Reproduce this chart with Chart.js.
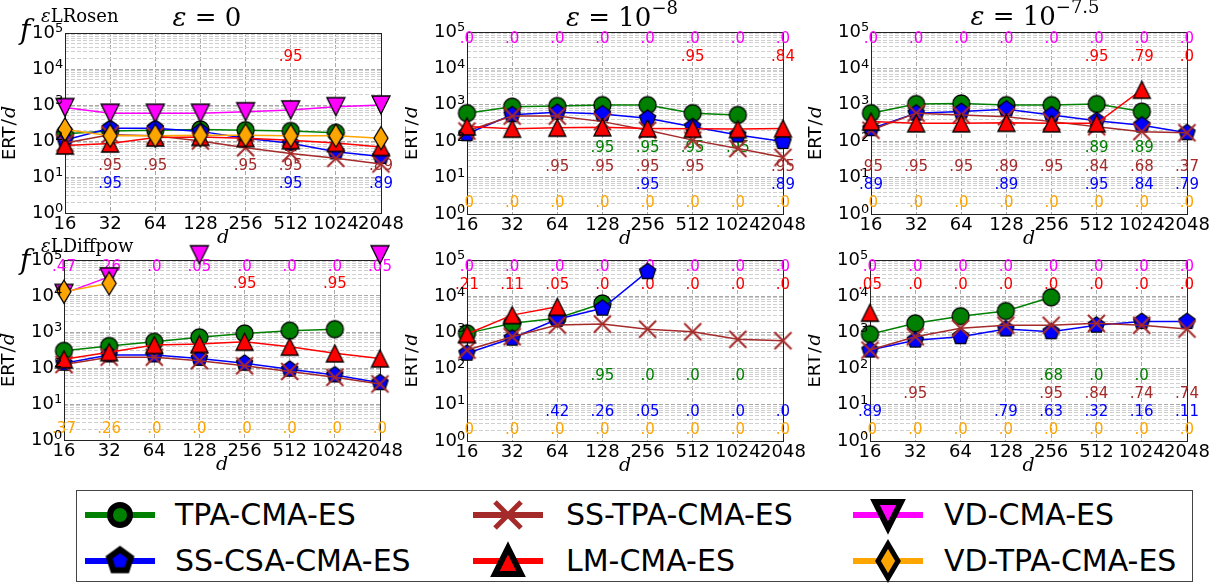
<!DOCTYPE html>
<html>
<head>
<meta charset="utf-8">
<script src="https://cdn.jsdelivr.net/npm/chart.js@4.4.1/dist/chart.umd.min.js"></script>
<style>
  body { margin: 0; background: #fff; }
  #page { position: relative; width: 1222px; height: 585px; overflow: hidden; background: #fff; }
  #page canvas { position: absolute; }
  .txt { position: absolute; white-space: nowrap; color: #000; font-family: "DejaVu Serif"; }
  .sup { font-size: 18px; position: relative; top: -12px; }
  .leg-text { position: absolute; font-family: "DejaVu Sans"; font-size: 30px; line-height: 44px; color: #000; white-space: nowrap; }
</style>
</head>
<body>
<div id="page"></div>
<script>
const N = null;
const DIMS = [16, 32, 64, 128, 256, 512, 1024, 2048];
const ALGOS = ['TPA-CMA-ES', 'SS-CSA-CMA-ES', 'SS-TPA-CMA-ES', 'LM-CMA-ES', 'VD-CMA-ES', 'VD-TPA-CMA-ES'];
const COLORS = ['#008000', '#0000ff', '#a52a2a', '#ff0000', '#ff00ff', '#ffa500'];
const Y_DECADES = [1, 10, 100, 1000, 10000, 100000];
const Y_TICK_BASE = '10';
const Y_TICK_EXP = ['0', '1', '2', '3', '4', '5'];

// ERT/d, one row per algorithm (ALGOS order), one column per dimension
const ertRosenEps0 = [
  [160, 190, 200, 210, 200, 190, 170, N],
  [107, 225, 225, 185, 120, 86, 50, 37],
  [88, 150, 140, 100, 65, 45, 33, 23],
  [75, 85, 125, 130, 120, 105, 88, 68],
  [850, 590, 590, 590, 650, 730, 900, 1000],
  [210, 140, 140, 145, 145, 140, 140, 120]
];
const ertRosenEps8 = [
  [590, 890, 930, 980, 980, 590, 525, N],
  [160, 530, 620, 560, 425, 250, 148, 98],
  [190, 490, 490, 345, 200, 107, 63, 36],
  [255, 220, 235, 240, 225, 220, 215, 225],
  [N, N, N, N, N, N, N, N],
  [N, N, N, N, N, N, N, N]
];
const ertRosenEps75 = [
  [590, 1050, 1090, 980, 980, 1050, 650, N],
  [220, 590, 650, 760, 525, 365, 276, 170],
  [200, 590, 525, 470, 345, 250, 183, 170],
  [345, 310, 310, 320, 310, 310, 2600, N],
  [N, N, N, N, N, N, N, N],
  [N, N, N, N, N, N, N, N]
];
const ertDiffpowEps0 = [
  [300, 410, 535, 710, 910, 1090, 1200, N],
  [135, 230, 230, 185, 135, 92, 64, 39],
  [125, 200, 200, 160, 115, 80, 55, 36],
  [175, 275, 435, 465, 535, 390, 255, 185],
  [11800, 34000, N, 140000, N, N, N, 140000],
  [13200, 22500, N, N, N, N, N, N]
];
const ertDiffpowEps8 = [
  [940, 1780, 2450, 6300, N, N, N, N],
  [265, 690, 2300, 4650, 47500, N, N, N],
  [325, 760, 1600, 1700, 1230, 1040, 645, 590],
  [900, 3000, 5100, N, N, N, N, N],
  [N, N, N, N, N, N, N, N],
  [N, N, N, N, N, N, N, N]
];
const ertDiffpowEps75 = [
  [890, 1780, 2800, 3900, 9300, N, N, N],
  [325, 610, 760, 1240, 1040, 1580, 1990, 1990],
  [325, 760, 1300, 1580, 1580, 1780, 1580, 1240],
  [3500, N, N, N, N, N, N, N],
  [N, N, N, N, N, N, N, N],
  [N, N, N, N, N, N, N, N]
];

// success rates written in each panel
const ALL0 = ['.0', '.0', '.0', '.0', '.0', '.0', '.0', '.0'];
const NONE = [N, N, N, N, N, N, N, N];
const rateRosenEps0 = [
  NONE,
  [N, '.95', N, N, N, '.95', N, '.89'],
  [N, '.95', '.95', N, '.95', '.95', N, '.89'],
  [N, N, N, N, N, '.95', N, N],
  NONE,
  NONE
];
const rateRosenEps8 = [
  [N, N, N, '.95', '.95', '.95', '.95', N],
  [N, N, N, N, '.95', N, N, '.89'],
  [N, N, '.95', '.95', '.95', '.95', N, '.95'],
  [N, N, N, N, N, '.95', N, '.84'],
  ALL0,
  ALL0
];
const rateRosenEps75 = [
  [N, N, N, N, N, '.89', '.89', N],
  ['.89', N, N, '.89', N, '.95', '.84', '.79'],
  ['.95', '.95', '.95', '.89', '.95', '.84', '.68', '.37'],
  [N, N, N, N, N, '.95', '.79', '.0'],
  ALL0,
  ALL0
];
const rateDiffpowEps0 = [
  NONE,
  NONE,
  NONE,
  [N, N, N, N, '.95', N, '.95', N],
  ['.47', '.26', '.0', '.05', '.0', '.0', '.0', '.05'],
  ['.37', '.26', '.0', '.0', '.0', '.0', '.0', '.0']
];
const rateDiffpowEps8 = [
  [N, N, N, '.95', '.0', '.0', '.0', N],
  [N, N, '.42', '.26', '.05', '.0', '.0', '.0'],
  NONE,
  ['.21', '.11', '.05', '.0', '.0', '.0', '.0', '.0'],
  ALL0,
  ALL0
];
const rateDiffpowEps75 = [
  [N, N, N, N, '.68', '.0', '.0', N],
  ['.89', N, N, '.79', '.63', '.32', '.16', '.11'],
  [N, '.95', N, N, '.95', '.84', '.74', '.74'],
  ['.05', '.0', '.0', '.0', '.0', '.0', '.0', '.0'],
  ALL0,
  ALL0
];

// height (log10 of y) at which each algorithm's rates are printed
const RATE_ROW = [1.8, 0.8, 1.3, 4.32, 4.8, 0.3];

const page = document.getElementById('page');

// marker images -------------------------------------------------------
const SHAPES = ['circle', 'pentagon', 'cross', 'triangle', 'triangleDown', 'diamond'];

function markerCanvas(kind, color, s, lw) {
  const w = kind === 'diamond' ? Math.round(s * 0.6) : s;
  const pad = Math.ceil(lw) + 1;
  const c = document.createElement('canvas');
  c.width = w + pad * 2;
  c.height = s + pad * 2;
  const g = c.getContext('2d');
  g.translate(c.width / 2, c.height / 2);
  g.lineWidth = lw;
  g.strokeStyle = '#000';
  g.fillStyle = color;
  g.lineJoin = 'miter';
  const r = s / 2;
  g.beginPath();
  if (kind === 'circle') {
    g.arc(0, 0, r, 0, Math.PI * 2);
  } else if (kind === 'triangle') {
    g.moveTo(0, -r); g.lineTo(r, r); g.lineTo(-r, r); g.closePath();
  } else if (kind === 'triangleDown') {
    g.moveTo(0, r); g.lineTo(r, -r); g.lineTo(-r, -r); g.closePath();
  } else if (kind === 'pentagon') {
    for (let k = 0; k < 5; k++) {
      const a = -Math.PI / 2 + k * 2 * Math.PI / 5;
      const px = r * Math.cos(a), py = r * Math.sin(a);
      if (k === 0) g.moveTo(px, py); else g.lineTo(px, py);
    }
    g.closePath();
  } else if (kind === 'diamond') {
    g.moveTo(0, -r); g.lineTo(w / 2, 0); g.lineTo(0, r); g.lineTo(-w / 2, 0); g.closePath();
  }
  if (kind === 'cross') {
    g.strokeStyle = color;
    g.moveTo(-r, -r); g.lineTo(r, r);
    g.moveTo(r, -r); g.lineTo(-r, r);
    g.stroke();
  } else {
    g.fill();
    g.stroke();
  }
  return c;
}

const MARK_SIZE = { circle: 17, pentagon: 17, cross: 17, triangle: 17, triangleDown: 18, diamond: 23 };
const MARKERS = SHAPES.map((k, i) => markerCanvas(k, COLORS[i], MARK_SIZE[k], k === 'cross' ? 2 : 1.3));

// panel drawing -------------------------------------------------------
function overlay(rates) {
  return {
    id: 'overlay',
    beforeDatasetsDraw(chart) {
      const { ctx, chartArea: a, scales } = chart;
      ctx.save();
      ctx.strokeStyle = '#222';
      ctx.lineWidth = 1;
      ctx.strokeRect(Math.round(a.left) + 0.5, Math.round(a.top) + 0.5,
        Math.round(a.right - a.left), Math.round(a.bottom - a.top));
      ctx.font = '15px "DejaVu Sans"';
      ctx.textAlign = 'center';
      ctx.textBaseline = 'middle';
      rates.forEach((row, s) => {
        ctx.fillStyle = COLORS[s];
        const y = scales.y.getPixelForValue(Math.pow(10, RATE_ROW[s]));
        row.forEach((txt, j) => {
          if (txt) ctx.fillText(txt, scales.x.getPixelForValue(DIMS[j]), y);
        });
      });
      ctx.restore();
    },
    afterDraw(chart) {
      const { ctx, chartArea: a, scales } = chart;
      ctx.save();
      ctx.fillStyle = '#000';
      // exponents of the y tick labels
      ctx.font = '13px "DejaVu Sans"';
      ctx.textAlign = 'left';
      ctx.textBaseline = 'middle';
      Y_DECADES.forEach((d, k) => {
        ctx.fillText(Y_TICK_EXP[k], a.left - 10, scales.y.getPixelForValue(d) - 4);
      });
      // axis titles
      ctx.textBaseline = 'alphabetic';
      ctx.textAlign = 'center';
      ctx.font = 'italic 19px "DejaVu Serif"';
      ctx.fillText('d', (a.left + a.right) / 2, a.bottom + 30);
      ctx.translate(a.left - 50, (a.top + a.bottom) / 2 + 10);
      ctx.rotate(-Math.PI / 2);
      ctx.textAlign = 'left';
      ctx.font = '18px "DejaVu Sans"';
      const w1 = ctx.measureText('ERT').width;
      ctx.font = '19px "DejaVu Serif"';
      const w2 = ctx.measureText('/').width + 2;
      ctx.font = 'italic 19px "DejaVu Serif"';
      const w3 = ctx.measureText('d').width;
      const x0 = -(w1 + w2 + w3) / 2;
      ctx.font = '18px "DejaVu Sans"';
      ctx.fillText('ERT', x0, 0);
      ctx.font = '19px "DejaVu Serif"';
      ctx.fillText('/', x0 + w1 + 1, 0);
      ctx.font = 'italic 19px "DejaVu Serif"';
      ctx.fillText('d', x0 + w1 + w2, 0);
      ctx.restore();
    }
  };
}

function makePanel(p, ert, rates) {
  const canvas = document.createElement('canvas');
  canvas.width = p.cw;
  canvas.height = p.ch;
  canvas.style.left = p.cx + 'px';
  canvas.style.top = p.cy + 'px';
  page.appendChild(canvas);

  new Chart(canvas, {
    type: 'line',
    data: {
      datasets: ALGOS.map((name, i) => ({
        label: name,
        data: DIMS.map((d, j) => ({ x: d, y: ert[i][j] })),
        borderColor: COLORS[i],
        borderWidth: 1.5,
        pointStyle: MARKERS[i],
        pointRadius: 6,
        pointHoverRadius: 6,
        spanGaps: false,
        tension: 0,
        clip: false,
        order: ALGOS.length - i
      }))
    },
    options: {
      responsive: false,
      animation: false,
      events: [],
      layout: { padding: { left: 0, bottom: 0, top: p.T - p.cy, right: p.cx + p.cw - p.R } },
      plugins: { legend: { display: false }, tooltip: { enabled: false } },
      scales: {
        x: {
          type: 'logarithmic',
          min: 16,
          max: 2048,
          afterBuildTicks: (s) => { s.ticks = DIMS.map(v => ({ value: v })); },
          afterFit: (s) => { s.height = p.cy + p.ch - p.B; },
          ticks: {
            autoSkip: false, maxRotation: 0, minRotation: 0, padding: 1, color: '#000',
            font: { family: 'DejaVu Sans', size: 18 },
            callback: (v) => String(v)
          },
          grid: { color: '#a8a8a8', lineWidth: 1, drawTicks: false },
          border: { display: false, dash: [4, 2] }
        },
        y: {
          type: 'logarithmic',
          min: 1,
          max: 100000,
          afterBuildTicks: (s) => {
            const t = [];
            Y_DECADES.forEach((d, k) => {
              if (k === Y_DECADES.length - 1) { t.push({ value: d }); return; }
              for (let m = 1; m < 10; m++) t.push({ value: m * d });
            });
            s.ticks = t;
          },
          afterFit: (s) => { s.width = p.L - p.cx; },
          ticks: {
            autoSkip: false, padding: 10, color: '#000',
            font: { family: 'DejaVu Sans', size: 18 },
            callback: (v) => (Y_DECADES.indexOf(v) >= 0 ? Y_TICK_BASE : '')
          },
          grid: {
            color: (c) => (Y_DECADES.indexOf(c.tick.value) >= 0 ? '#a8a8a8' : '#cfcfcf'),
            lineWidth: 1,
            drawTicks: false
          },
          border: { display: false, dash: [4, 2] }
        }
      }
    },
    plugins: [overlay(rates)]
  });
}

const PANELS = [
  { cx: 0, cy: 0, cw: 405, ch: 252, L: 65, R: 381, T: 33, B: 213 },
  { cx: 405, cy: 0, cw: 405, ch: 252, L: 467, R: 783, T: 32, B: 214 },
  { cx: 808, cy: 0, cw: 414, ch: 252, L: 871, R: 1187, T: 32, B: 214 },
  { cx: 0, cy: 238, cw: 405, ch: 240, L: 64, R: 380, T: 260, B: 440 },
  { cx: 405, cy: 238, cw: 405, ch: 240, L: 467, R: 783, T: 260, B: 441 },
  { cx: 808, cy: 238, cw: 414, ch: 240, L: 870, R: 1187, T: 260, B: 441 }
];

makePanel(PANELS[0], ertRosenEps0, rateRosenEps0);
makePanel(PANELS[1], ertRosenEps8, rateRosenEps8);
makePanel(PANELS[2], ertRosenEps75, rateRosenEps75);
makePanel(PANELS[3], ertDiffpowEps0, rateDiffpowEps0);
makePanel(PANELS[4], ertDiffpowEps8, rateDiffpowEps8);
makePanel(PANELS[5], ertDiffpowEps75, rateDiffpowEps75);

// titles and function names -------------------------------------------
function addText(html, x, baseline, size, center) {
  const d = document.createElement('div');
  d.className = 'txt';
  d.style.fontSize = size + 'px';
  d.style.lineHeight = size + 'px';
  d.style.top = (baseline - 0.845 * size) + 'px';
  d.style.left = x + 'px';
  if (center) d.style.transform = 'translateX(-50%)';
  d.innerHTML = html;
  page.appendChild(d);
}
addText('<i>ε</i> = 0', 207, 26, 26, true);
addText('<i>ε</i> = 10<span class="sup">−8</span>', 622, 26, 26, true);
addText('<i>ε</i> = 10<span class="sup">−7.5</span>', 1035, 25, 26, true);
addText('<i>f</i>', 20, 40, 28);
addText('<i>ε</i>LRosen', 41, 22, 18);
addText('<i>f</i>', 20, 270, 28);
addText('<i>ε</i>LDiffpow', 41, 252, 18);

// legend --------------------------------------------------------------
const box = document.createElement('div');
box.style.cssText = 'position:absolute;left:76px;top:490px;width:1117px;height:92px;border:1px solid #444;box-sizing:border-box;';
page.appendChild(box);

const LEG_COL = [0, 0, 1, 1, 2, 2];
const LEG_ROW = [0, 1, 0, 1, 0, 1];
const LEG_LINE_X = [85, 473, 853];
const LEG_TEXT_X = [175, 566, 944];
const LEG_ROW_Y = [515, 561];
const LEG_SIZE = { circle: [20, 6], pentagon: [23, 6], cross: [26, 5], triangle: [26, 6], triangleDown: [26, 6], diamond: [34, 5] };

ALGOS.forEach((name, i) => {
  const col = LEG_COL[i], cy = LEG_ROW_Y[LEG_ROW[i]];
  const icon = document.createElement('canvas');
  icon.width = 70; icon.height = 44;
  icon.style.left = LEG_LINE_X[col] + 'px';
  icon.style.top = (cy - 22) + 'px';
  const g = icon.getContext('2d');
  g.strokeStyle = COLORS[i];
  g.lineWidth = 6;
  g.beginPath(); g.moveTo(0, 22); g.lineTo(70, 22); g.stroke();
  const [s, lw] = LEG_SIZE[SHAPES[i]];
  const m = markerCanvas(SHAPES[i], COLORS[i], s, lw);
  g.drawImage(m, 35 - m.width / 2, 22 - m.height / 2);
  page.appendChild(icon);

  const t = document.createElement('div');
  t.className = 'leg-text';
  t.style.left = LEG_TEXT_X[col] + 'px';
  t.style.top = (cy - 22) + 'px';
  t.textContent = name;
  page.appendChild(t);
});
</script>
</body>
</html>
